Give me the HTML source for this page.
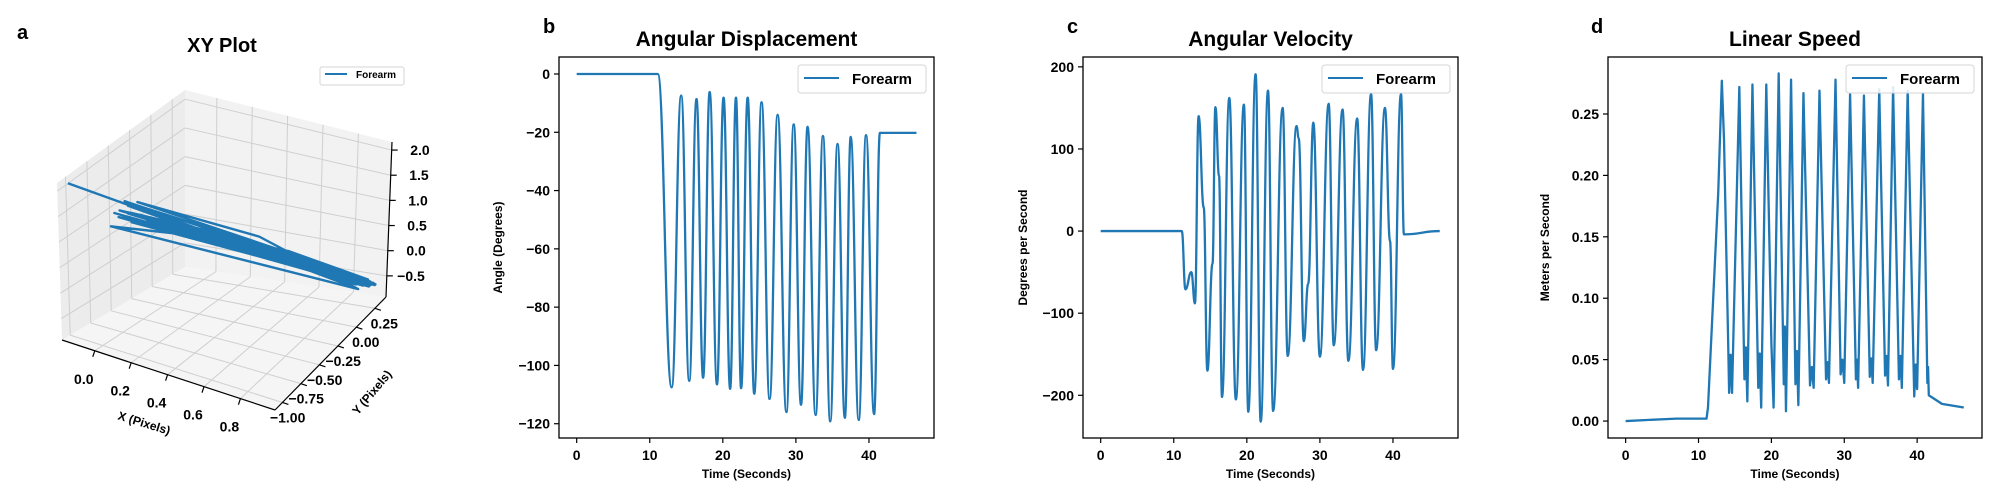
<!DOCTYPE html>
<html><head><meta charset="utf-8">
<style>
html,body{margin:0;padding:0;background:#fff;}
svg{display:block;font-family:"Liberation Sans",Arial,sans-serif;font-weight:bold;}
</style></head>
<body>
<svg id="fig" width="2000" height="500" viewBox="0 0 2000 500" xmlns="http://www.w3.org/2000/svg">
<rect width="2000" height="500" fill="#fff"/>
<g id="panelA"></g>
<g id="panelB"></g>
<g id="panelC"></g>
<g id="panelD"></g>
</svg>
<script>
// ---------- data ----------
const dispTime = [0, 11.1, 13.0, 14.3, 15.4, 16.4, 17.3, 18.2, 19.2, 20.1, 21.0, 21.8, 22.5, 23.4, 24.3, 25.3, 26.4, 27.5, 28.7, 29.7, 30.7, 31.6, 32.7, 33.7, 34.7, 35.7, 36.7, 37.5, 38.6, 39.6, 40.7, 41.5, 46.5];
const dispAngle = [0, 0, -107.5, -7.4, -105.3, -8.6, -104.2, -6.2, -106.5, -8.1, -108, -8.1, -107.8, -8.1, -109.7, -9.7, -111.5, -14, -116, -17.3, -113.5, -18.1, -117, -21.3, -119.2, -24, -118, -21.6, -118.7, -21, -116.7, -20.2, -20.2];
const dispTicks = [0, -20, -40, -60, -80, -100, -120];

const velTime = [0, 11.1, 11.6, 12.4, 12.9, 13.4, 14.1, 14.6, 15.3, 15.7, 16.2, 16.6, 17.6, 18.5, 19.6, 20.2, 21.2, 21.9, 22.9, 23.6, 24.9, 25.6, 26.8, 27.1, 27.8, 28.4, 29.1, 30.0, 31.2, 31.9, 33.1, 33.9, 35.1, 35.9, 37.0, 37.7, 38.9, 39.6, 40.0, 41.1, 41.5, 46.4];
const velValue = [0, 0, -71, -50, -88, 140, 29, -170, -40, 151, 67, -202, 162, -205, 154, -220, 191, -232, 171, -219, 150, -152, 128, 113, -134, -64, 132, -153, 155, -139, 148, -158, 137, -169, 167, -145, 150, -12, -168, 167, -4, 0];
const velTicks = [200, 100, 0, -100, -200];

const speedTime = [0, 7.0, 11.1, 11.3, 12.7, 13.2, 13.5, 14.1, 14.2, 14.4, 14.6, 15.6, 16.3, 16.5, 16.7, 17.4, 18.2, 18.4, 18.6, 19.3, 20.0, 20.3, 21.0, 21.7, 21.85, 22.0, 22.7, 23.3, 23.5, 23.7, 24.4, 25.3, 25.55, 25.8, 26.6, 27.5, 27.7, 27.9, 28.8, 29.5, 29.75, 30.0, 30.8, 31.6, 31.75, 31.9, 32.7, 33.5, 33.7, 33.9, 34.8, 35.6, 35.8, 36.0, 36.7, 37.5, 37.7, 37.9, 38.7, 39.6, 39.8, 40.0, 40.8, 41.4, 41.5, 41.6, 43.4, 46.4];
const speedValue = [0, 0.002, 0.002, 0.011, 0.185, 0.277, 0.229, 0.055, 0.023, 0.054, 0.023, 0.272, 0.034, 0.06, 0.016, 0.274, 0.027, 0.055, 0.011, 0.274, 0.063, 0.011, 0.283, 0.03, 0.077, 0.008, 0.278, 0.030, 0.057, 0.013, 0.267, 0.029, 0.044, 0.027, 0.269, 0.034, 0.048, 0.031, 0.278, 0.038, 0.050, 0.031, 0.266, 0.034, 0.05, 0.027, 0.265, 0.036, 0.051, 0.031, 0.270, 0.037, 0.053, 0.029, 0.272, 0.034, 0.053, 0.027, 0.269, 0.020, 0.046, 0.026, 0.267, 0.031, 0.044, 0.021, 0.014, 0.011];
const speedTicks = [0, 0.05, 0.10, 0.15, 0.20, 0.25];
const speedTickLabels = ["0.00", "0.05", "0.10", "0.15", "0.20", "0.25"];

const timeTicks = [0, 10, 20, 30, 40];

const trajX = [-0.17, 0.85, 0.05, 0.9, 0.02, 0.6, 0.92, 0.08, 0.5, 0.88, 0.0, 0.4, 0.93, 0.1, 0.55, 0.87, 0.04, 0.91, 0.3, 0.95, 0.06, 0.45, 0.89, 0.12, 0.7, 0.94, 0.03, 0.35, 0.9, 0.07, 0.6, 0.86, 0.15, 0.92, 0.09, 0.5, 0.88, 0.01, 0.93, 0.2, 0.9, 0.11, 0.65, 0.95, 0.05, 0.87, 0.92, 0.88, 0.94, 0.9];
const trajY = [-1.05, 0.25, -0.8, 0.3, -0.85, 0.0, 0.32, -0.75, -0.15, 0.28, -0.9, -0.3, 0.33, -0.7, -0.1, 0.26, -0.82, 0.3, -0.5, 0.35, -0.78, -0.2, 0.29, -0.72, 0.05, 0.31, -0.86, -0.35, 0.27, -0.8, -0.05, 0.3, -0.65, 0.34, -0.74, -0.18, 0.28, -0.88, 0.32, -0.6, 0.3, -0.7, 0.0, 0.34, -0.8, 0.26, 0.33, 0.29, 0.35, 0.3];
const trajZ = [2.1, -0.55, 1.65, -0.6, 1.45, 0.3, -0.5, 1.7, 0.7, -0.65, 1.3, 0.75, -0.55, 1.55, 0.45, -0.6, 1.75, -0.5, 0.9, -0.62, 1.5, 0.65, -0.55, 1.4, 0.1, -0.58, 1.6, 0.9, -0.52, 1.35, 0.35, -0.6, 1.2, -0.65, 1.45, 0.55, -0.5, 1.55, -0.6, 1.1, -0.56, 1.3, 0.2, -0.62, 1.5, -0.5, -0.65, -0.55, -0.6, -0.52];
const xTicks3d = [0.0, 0.2, 0.4, 0.6, 0.8];
const xTickLabels3d = ["0.0", "0.2", "0.4", "0.6", "0.8"];
const yTicks3d = [-1.0, -0.75, -0.5, -0.25, 0.0, 0.25];
const yTickLabels3d = ["\u22121.00", "\u22120.75", "\u22120.50", "\u22120.25", "0.00", "0.25"];
const zTicks3d = [-0.5, 0.0, 0.5, 1.0, 1.5, 2.0];
const zTickLabels3d = ["\u22120.5", "0.0", "0.5", "1.0", "1.5", "2.0"];

const NS = "http://www.w3.org/2000/svg";
const BLUE = "#1f77b4";
function mk(parent, tag, attrs, text) {
  const e = document.createElementNS(NS, tag);
  for (const k in attrs) e.setAttribute(k, attrs[k]);
  if (text !== undefined) e.textContent = text;
  parent.appendChild(e);
  return e;
}
function fmt(v) { return (v < 0 ? "\u2212" : "") + Math.abs(v); }

function drawPanel(g, cfg) {
  const sx = v => cfg.x0 + (v - cfg.xmin) / (cfg.xmax - cfg.xmin) * (cfg.x1 - cfg.x0);
  const sy = v => cfg.y1 - (v - cfg.ymin) / (cfg.ymax - cfg.ymin) * (cfg.y1 - cfg.y0);
  let d;
  if (cfg.smooth) {
    d = "M" + sx(cfg.xs[0]) + "," + sy(cfg.ys[0]);
    for (let i = 1; i < cfg.xs.length; i++) {
      const xa = sx(cfg.xs[i - 1]), ya = sy(cfg.ys[i - 1]), xb = sx(cfg.xs[i]), yb = sy(cfg.ys[i]);
      const dx = (xb - xa) / 2.2;
      d += " C" + (xa + dx) + "," + ya + " " + (xb - dx) + "," + yb + " " + xb + "," + yb;
    }
  } else {
    d = cfg.xs.map((v, i) => (i ? "L" : "M") + sx(v) + "," + sy(cfg.ys[i])).join(" ");
  }
  const line = mk(g, "path", {d: d, fill: "none", stroke: BLUE, "stroke-width": 2.3, "stroke-linejoin": "round"});
  
  
  const fr = mk(g, "rect", {x: cfg.x0, y: cfg.y0, width: cfg.x1 - cfg.x0, height: cfg.y1 - cfg.y0, fill: "none", stroke: "#000", "stroke-width": 1.3});
  
  
  timeTicks.forEach(t => {
    const x = sx(t);
    const tk = mk(g, "line", {x1: x, x2: x, y1: cfg.y1, y2: cfg.y1 + 5, stroke: "#000", "stroke-width": 1.2});
    
    
    const lb = mk(g, "text", {x: x, y: cfg.y1 + 22, "text-anchor": "middle", "font-size": 14}, String(t));
    
    
  });
  cfg.yt.forEach((t, i) => {
    const y = sy(t);
    const tk = mk(g, "line", {x1: cfg.x0 - 5, x2: cfg.x0, y1: y, y2: y, stroke: "#000", "stroke-width": 1.2});
    
    
    const lb = mk(g, "text", {x: cfg.x0 - 9, y: y + 5, "text-anchor": "end", "font-size": 14}, cfg.ytl ? cfg.ytl[i] : fmt(t));
    
    
  });
  const cx = (cfg.x0 + cfg.x1) / 2;
  const xl = mk(g, "text", {x: cx, y: cfg.y1 + 40, "text-anchor": "middle", "font-size": 12}, "Time (Seconds)");
  
  
  const ylx = cfg.ylabelX, yly = (cfg.y0 + cfg.y1) / 2;
  const yl = mk(g, "text", {x: ylx, y: yly, "text-anchor": "middle", "font-size": 12, transform: "rotate(-90 " + ylx + " " + yly + ")"}, cfg.ylabel);
  
  
  const ti = mk(g, "text", {x: cx, y: 46, "text-anchor": "middle", "font-size": 21}, cfg.title);
  
  
  const le = mk(g, "text", {x: cfg.letterX, y: 33, "font-size": 20}, cfg.letter);
  
  
  const lg = mk(g, "g", {});
  
  
  const lx = cfg.x1 - 136;
  mk(lg, "rect", {x: lx, y: 65, width: 128, height: 28, rx: 3, fill: "#fff", "fill-opacity": 0.85, stroke: "#d5d5d5"});
  const ll = mk(lg, "line", {x1: lx + 6, x2: lx + 41, y1: 78, y2: 78, stroke: BLUE, "stroke-width": 2});
  
  
  const lt = mk(lg, "text", {x: lx + 54, y: 84, "font-size": 15}, "Forearm");
  
  
}

drawPanel(document.getElementById("panelB"), {name: "displacement", x0: 559, x1: 934, y0: 57, y1: 438, xmin: -2.42, xmax: 48.9, ymin: -124.9, ymax: 5.83,
  xs: dispTime, ys: dispAngle, yt: dispTicks, smooth: true, title: "Angular Displacement", ylabel: "Angle (Degrees)", ylabelX: 502, letter: "b", letterX: 543});
drawPanel(document.getElementById("panelC"), {name: "velocity", x0: 1083, x1: 1458, y0: 57, y1: 438, xmin: -2.42, xmax: 48.9, ymin: -252, ymax: 212,
  xs: velTime, ys: velValue, yt: velTicks, smooth: true, title: "Angular Velocity", ylabel: "Degrees per Second", ylabelX: 1027, letter: "c", letterX: 1067});
drawPanel(document.getElementById("panelD"), {name: "speed", x0: 1608, x1: 1982, y0: 57, y1: 438, xmin: -2.42, xmax: 48.9, ymin: -0.0138, ymax: 0.2964,
  xs: speedTime, ys: speedValue, yt: speedTicks, ytl: speedTickLabels, smooth: false, title: "Linear Speed", ylabel: "Meters per Second", ylabelX: 1549, letter: "d", letterX: 1591});

// ---------- 3D panel ----------
(function () {
  const g = document.getElementById("panelA");
  const P = {L: [62, 340], F: [275, 410], R: [386, 297], B: [185, 267], A: [185, 90], TL: [57, 183], RT: [392, 142]};
  const xr = [-0.18, 0.99], yr = [-1.1, 0.4], zr = [-0.92, 2.16];
  function bil(q, u, v) {
    const a = [q[0][0] + (q[1][0] - q[0][0]) * u, q[0][1] + (q[1][1] - q[0][1]) * u];
    const b = [q[3][0] + (q[2][0] - q[3][0]) * u, q[3][1] + (q[2][1] - q[3][1]) * u];
    return [a[0] + (b[0] - a[0]) * v, a[1] + (b[1] - a[1]) * v];
  }
  const fx = x => (x - xr[0]) / (xr[1] - xr[0]);
  const fy = y => (y - yr[0]) / (yr[1] - yr[0]);
  const fz = z => (z - zr[0]) / (zr[1] - zr[0]);
  const floorQ = [P.L, P.F, P.R, P.B];
  const leftQ = [P.L, P.B, P.A, P.TL];
  const rightQ = [P.B, P.R, P.RT, P.A];
  const poly = q => q.map(p => p.join(",")).join(" ");
  const pl = mk(g, "polygon", {points: poly(leftQ), fill: "#ececec"});
  
  
  const pr = mk(g, "polygon", {points: poly(rightQ), fill: "#f2f2f2"});
  
  
  const pf = mk(g, "polygon", {points: poly(floorQ), fill: "#f5f5f5"});
  
  
  const grid = (a, b) => {
    const l = mk(g, "line", {x1: a[0], y1: a[1], x2: b[0], y2: b[1], stroke: "#cfcfcf", "stroke-width": 1});
    
    
  };
  xTicks3d.forEach(x => { grid(bil(floorQ, fx(x), 0), bil(floorQ, fx(x), 1)); grid(bil(rightQ, fx(x), 0), bil(rightQ, fx(x), 1)); });
  yTicks3d.forEach(y => { grid(bil(floorQ, 0, fy(y)), bil(floorQ, 1, fy(y))); grid(bil(leftQ, fy(y), 0), bil(leftQ, fy(y), 1)); });
  zTicks3d.forEach(z => { grid(bil(leftQ, 0, fz(z)), bil(leftQ, 1, fz(z))); grid(bil(rightQ, 0, fz(z)), bil(rightQ, 1, fz(z))); });
  [[P.L, P.F], [P.F, P.R], [P.R, P.RT]].forEach(e => {
    const l = mk(g, "line", {x1: e[0][0], y1: e[0][1], x2: e[1][0], y2: e[1][1], stroke: "#000", "stroke-width": 1.2});
    
    
  });
  xTicks3d.forEach((x, i) => {
    const p = bil(floorQ, fx(x), 0);
    mk(g, "line", {x1: p[0], y1: p[1], x2: p[0] - 2, y2: p[1] + 6, stroke: "#000", "stroke-width": 1.2});
    const t = mk(g, "text", {x: p[0] - 11, y: p[1] + 33, "text-anchor": "middle", "font-size": 14}, xTickLabels3d[i]);
    
    
  });
  yTicks3d.forEach((y, i) => {
    const p = bil(floorQ, 1, fy(y));
    mk(g, "line", {x1: p[0], y1: p[1], x2: p[0] + 6, y2: p[1] + 2, stroke: "#000", "stroke-width": 1.2});
    const t = mk(g, "text", {x: p[0] + 23, y: p[1] + 20, "text-anchor": "end", "font-size": 14}, yTickLabels3d[i]);
    
    
  });
  zTicks3d.forEach((z, i) => {
    const p = bil(rightQ, 1, fz(z));
    mk(g, "line", {x1: p[0], y1: p[1], x2: p[0] + 6, y2: p[1], stroke: "#000", "stroke-width": 1.2});
    const t = mk(g, "text", {x: p[0] + 38, y: p[1] + 5, "text-anchor": "end", "font-size": 14}, zTickLabels3d[i]);
    
    
  });
  const proj = (x, y, z) => {
    const f = bil(floorQ, fx(x), fy(y));
    return [f[0], f[1] - fz(z) * 158];
  };
  const pts = trajX.map((x, i) => proj(x, trajY[i], trajZ[i]).join(",")).join(" ");
  const tr = mk(g, "polyline", {points: pts, fill: "none", stroke: BLUE, "stroke-width": 2.4, "stroke-linejoin": "round"});
  
  
  const xl = mk(g, "text", {x: 143, y: 427, "text-anchor": "middle", "font-size": 12, transform: "rotate(17 143 427)"}, "X (Pixels)");
  
  
  const yl = mk(g, "text", {x: 375, y: 395, "text-anchor": "middle", "font-size": 12, transform: "rotate(-50 375 395)"}, "Y (Pixels)");
  
  
  const ti = mk(g, "text", {x: 222, y: 52, "text-anchor": "middle", "font-size": 20}, "XY Plot");
  
  
  const le = mk(g, "text", {x: 17, y: 39, "font-size": 20}, "a");
  
  
  const lg = mk(g, "g", {});
  
  
  mk(lg, "rect", {x: 320, y: 67, width: 84, height: 18, rx: 2, fill: "#fff", stroke: "#d5d5d5"});
  mk(lg, "line", {x1: 325, x2: 347, y1: 74, y2: 74, stroke: BLUE, "stroke-width": 2});
  const lt = mk(lg, "text", {x: 356, y: 78, "font-size": 10}, "Forearm");
  
  
})();
</script>
</body></html>
